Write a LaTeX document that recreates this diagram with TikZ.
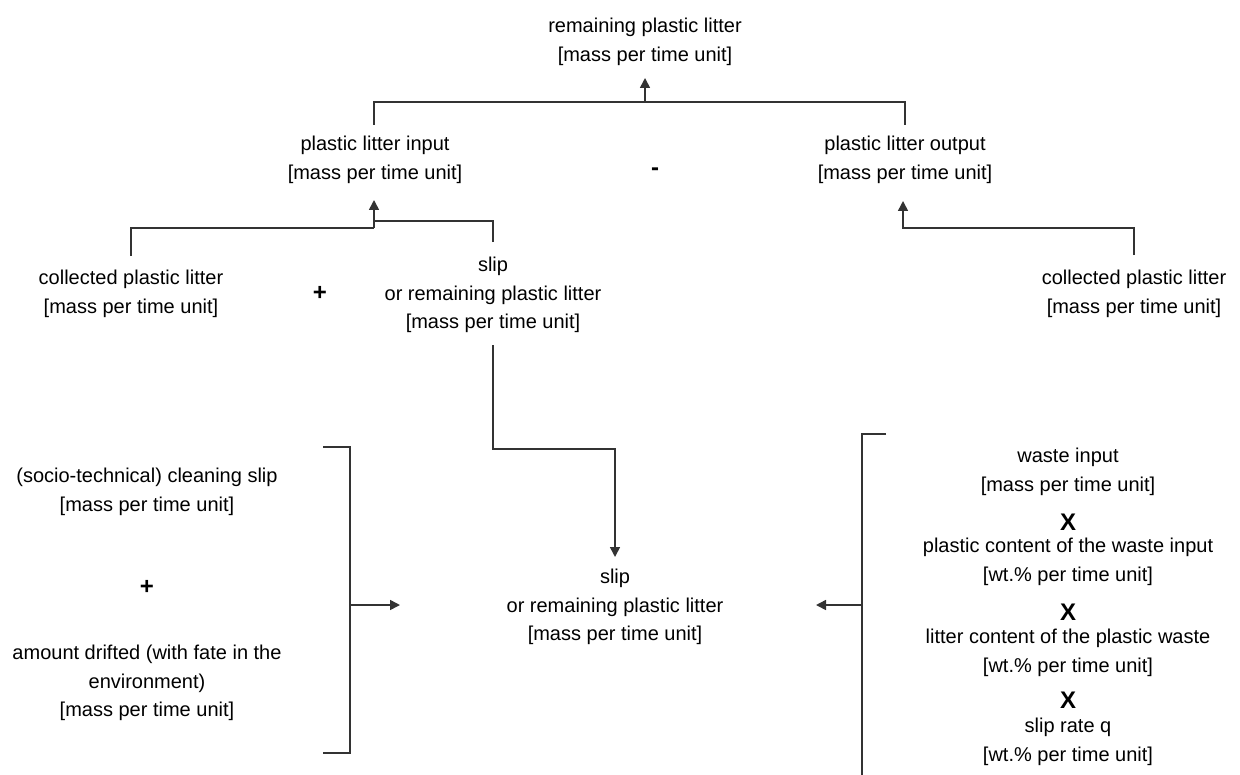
\documentclass[tikz,border=0pt]{standalone}
\usepackage{fontspec}
\setmainfont{Liberation Sans}
\usetikzlibrary{arrows.meta,positioning}
\newcommand{\mpt}{[mass per time unit]}
\newcommand{\wpt}{[wt.\% per time unit]}

\begin{document}
\begin{tikzpicture}[x=0.5pt, y=-0.5pt, every node/.style={font=\fontsize{10}{14.4}\selectfont, inner sep=0pt}, lbl/.style={align=center}, op/.style={font=\bfseries\fontsize{12}{12}\selectfont}, link/.style={draw=black!80, line width=0.8pt}, arrow/.style={link, -{Triangle[length=5pt, width=5pt]}}]
\useasboundingbox (0,0) rectangle (1240,775);

% upper tree
\node[lbl] (remain) at (645,42) {remaining plastic litter\\\mpt};
\node[lbl] (input) at (375,160) {plastic litter input\\\mpt};
\node[lbl] (output) at (905,160) {plastic litter output\\\mpt};
\node[op] (minus) at (655,172) {-};
\node[lbl] (collL) at (131,294) {collected plastic litter\\\mpt};
\node[op] (plusA) at (320,293) {+};
\node[lbl] (slipA) at (493,295) {slip\\or remaining plastic litter\\\mpt};
\node[lbl] (collR) at (1134,294) {collected plastic litter\\\mpt};

\coordinate (remTip) at (645,78); \coordinate (remFoot) at (645,102);
\coordinate (inTop) at (374,125); \coordinate (outTop) at (905,125);
\draw[link] (inTop) |- (remFoot) -| (outTop);
\draw[arrow] (remFoot) -- (remTip);

\coordinate (inTip) at (374,200); \coordinate (inFoot) at (374,228);
\coordinate (collLTop) at (131,256); \coordinate (slipATop) at (493,242);
\draw[link] (collLTop) |- (inFoot);
\draw[link] (slipATop) |- (374,221);
\draw[arrow] (inFoot) -- (inTip);

\coordinate (outTip) at (903,201); \coordinate (collRTop) at (1134,255);
\draw[arrow] (collRTop) |- (903,228) -- (outTip);

% lower part
\node[lbl] (slipB) at (615,607) {slip\\or remaining plastic litter\\\mpt};
\coordinate (slipABot) at (493,345); \coordinate (slipBTip) at (615,557);
\draw[arrow] (slipABot) |- (615,449) -- (slipBTip);

\node[lbl] (clean) at (147,492) {(socio-technical) cleaning slip\\\mpt};
\node[op] (plusB) at (147,587) {+};
\node[lbl] (drift) at (147,683) {amount drifted (with fate in the\\environment)\\\mpt};
\coordinate (brL) at (350,605); \coordinate (brLTip) at (400,605);
\draw[link] (323,447) -- (350,447) -- (350,753) -- (323,753);
\draw[arrow] (brL) -- (brLTip);

\node[lbl] (waste) at (1068,472) {waste input\\\mpt};
\node[op] (x1) at (1068,522) {X};
\node[lbl] (plastic) at (1068,562) {plastic content of the waste input\\\wpt};
\node[op] (x2) at (1068,612) {X};
\node[lbl] (litter) at (1068,653) {litter content of the plastic waste\\\wpt};
\node[op] (x3) at (1068,700) {X};
\node[lbl] (rate) at (1068,742) {slip rate q\\\wpt};
\coordinate (brR) at (862,605); \coordinate (brRTip) at (816,605);
\draw[link] (886,434) -- (862,434) -- (862,785);
\draw[arrow] (brR) -- (brRTip);
\end{tikzpicture}
\end{document}
